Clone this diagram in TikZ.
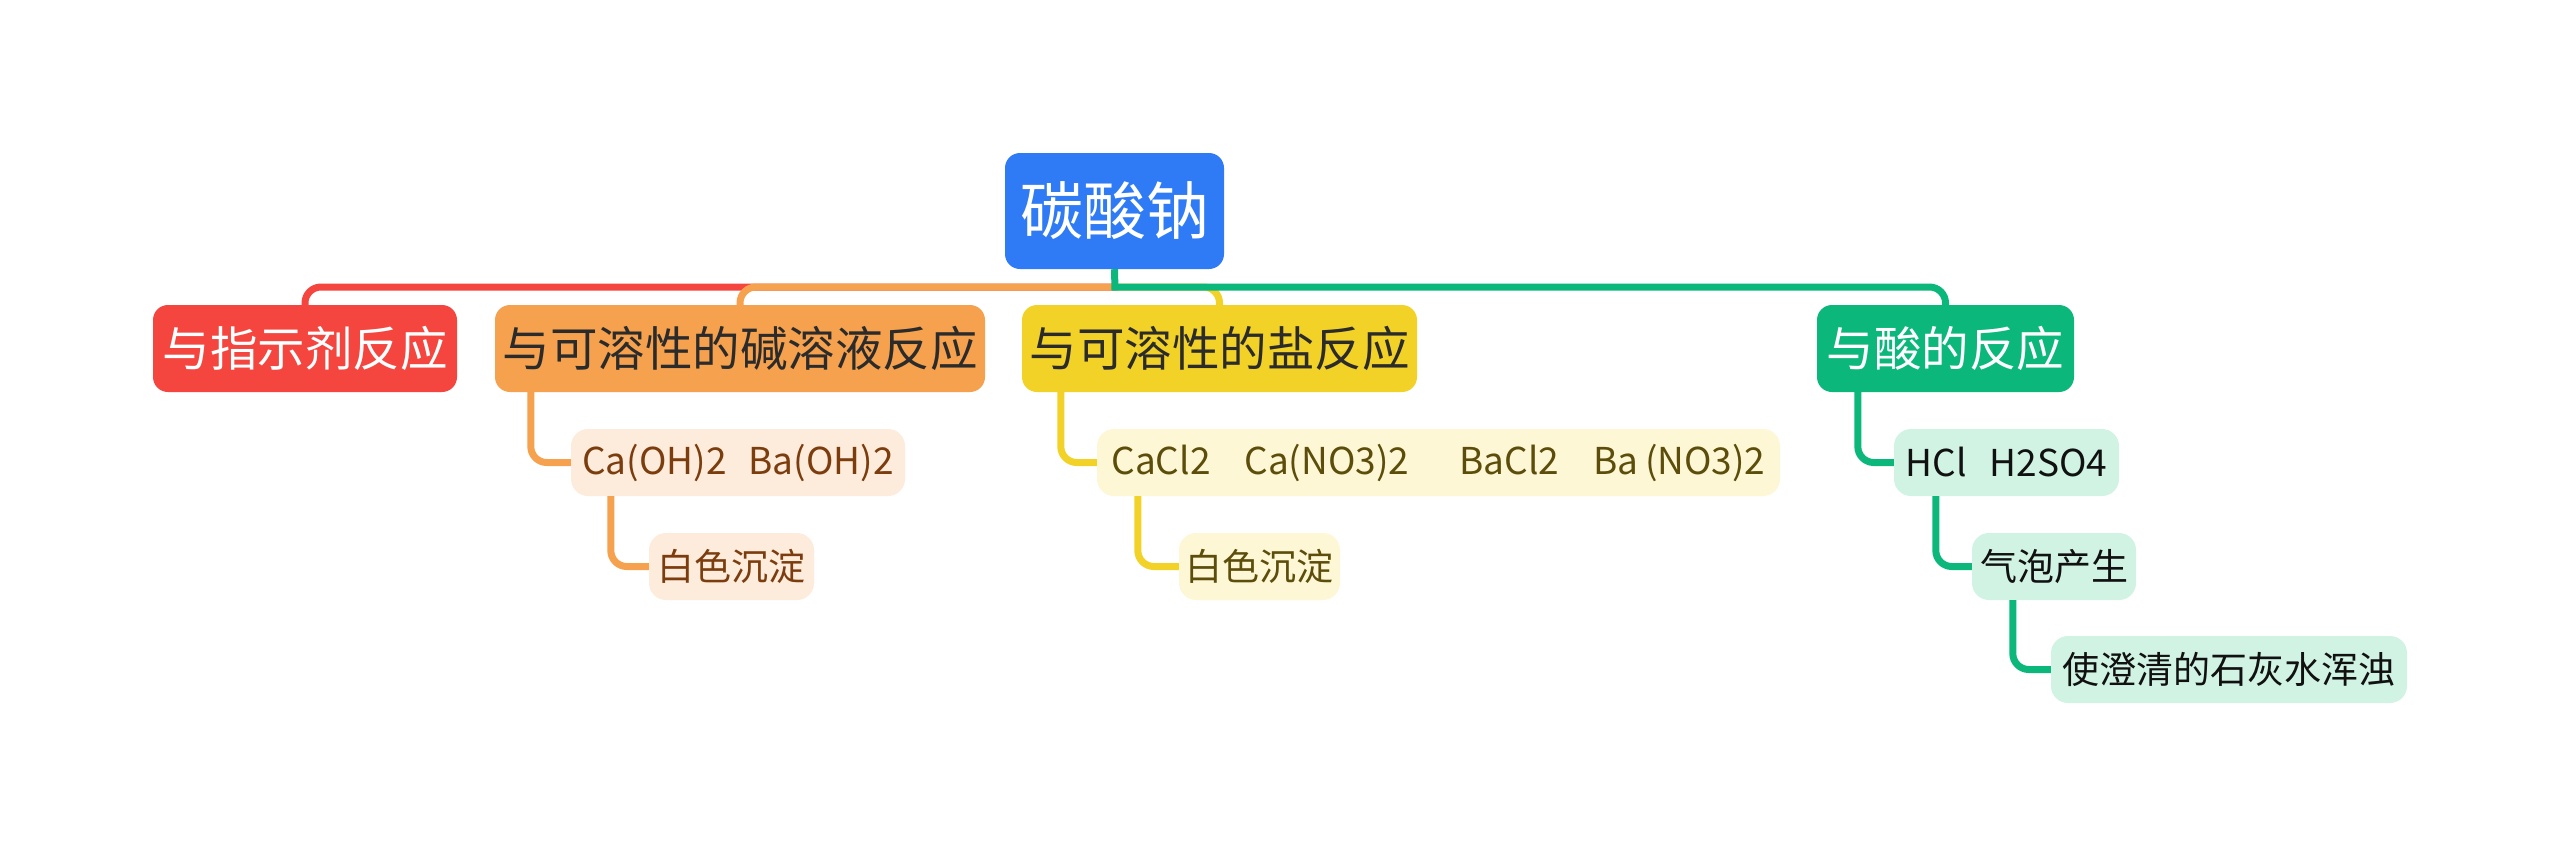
\documentclass[tikz,border=0pt]{standalone}
\usepackage{fontspec}
\setmainfont{Noto Sans CJK SC}
\definecolor{rootblue}{HTML}{2F7BF5}
\definecolor{redc}{HTML}{F4453F}
\definecolor{orangec}{HTML}{F5A14E}
\definecolor{yellowc}{HTML}{F2D227}
\definecolor{greenc}{HTML}{0BB77A}
\definecolor{osubfill}{HTML}{FDEBDC}
\definecolor{osubtext}{HTML}{7C3D0E}
\definecolor{ysubfill}{HTML}{FDF7D6}
\definecolor{ysubtext}{HTML}{5C4D0A}
\definecolor{gsubfill}{HTML}{D1F3E4}
\definecolor{gsubtext}{HTML}{111111}
\definecolor{darktext}{HTML}{2B2B2B}
\begin{document}
\begin{tikzpicture}[x=1pt,y=-1pt,
  box/.style={rounded corners=15pt, inner sep=0pt, align=center},
  rootbox/.style={box, fill=rootblue, text=white, minimum height=116pt, font=\fontsize{63}{70}\selectfont},
  mainbox/.style={box, minimum height=87pt, font=\fontsize{47.5}{54}\selectfont},
  subbox/.style={box, rounded corners=17pt, minimum height=67pt, font=\fontsize{37}{42}\selectfont},
  osub/.style={subbox, fill=osubfill, text=osubtext},
  ysub/.style={subbox, fill=ysubfill, text=ysubtext},
  gsub/.style={subbox, fill=gsubfill, text=gsubtext},
  conn/.style={line width=7pt, rounded corners=16pt},
  redline/.style={conn, draw=redc},
  orangeline/.style={conn, draw=orangec},
  yellowline/.style={conn, draw=yellowc},
  greenline/.style={conn, draw=greenc}]
\useasboundingbox[fill=white] (0,0) rectangle (2560,857);

\node[rootbox, minimum width=219pt] (root) at (1114.5,211) {碳酸钠};

\node[mainbox, fill=redc, text=white, minimum width=304pt] (red) at (305,348.5) {与指示剂反应};
\node[mainbox, fill=orangec, text=darktext, minimum width=490pt] (orange) at (740,348.5) {与可溶性的碱溶液反应};
\node[mainbox, fill=yellowc, text=darktext, minimum width=395pt] (yellow) at (1219.5,348.5) {与可溶性的盐反应};
\node[mainbox, fill=greenc, text=white, minimum width=257pt] (green) at (1945.5,348.5) {与酸的反应};

\node[osub, minimum width=334pt] (caoh) at (738,462.5) {Ca(OH)2\hspace{22pt}Ba(OH)2};
\node[osub, minimum width=165pt] (bai1) at (731.5,566.5) {白色沉淀};
\node[ysub, minimum width=683pt] (cacl) at (1438.5,462.5) {CaCl2\hspace{34pt}Ca(NO3)2\hspace{50pt}BaCl2\hspace{34pt}Ba\hspace{7pt}(NO3)2};
\node[ysub, minimum width=161pt] (bai2) at (1259.5,566.5) {白色沉淀};
\node[gsub, minimum width=225pt] (hcl) at (2006.5,462.5) {HCl\hspace{23pt}H2SO4};
\node[gsub, minimum width=164pt] (qipao) at (2054,566.5) {气泡产生};
\node[gsub, minimum width=356pt] (shi) at (2229,669.5) {使澄清的石灰水浑浊};

\coordinate (hub) at (1115,287);
\coordinate (stubend) at (1115,290.5);
\draw[redline] (hub) -| (red.north);
\draw[orangeline] (hub) -| (orange.north);
\draw[yellowline] (hub) -| (yellow.north);
\draw[greenline] (hub) -| (green.north);
\draw[greenline] (root.south) -- (stubend);

\draw[orangeline] ([xshift=36pt]orange.south west) |- (caoh.west);
\draw[orangeline] ([xshift=40pt]caoh.south west) |- (bai1.west);
\draw[yellowline] ([xshift=39pt]yellow.south west) |- (cacl.west);
\draw[yellowline] ([xshift=41pt]cacl.south west) |- (bai2.west);
\draw[greenline] ([xshift=41pt]green.south west) |- (hcl.west);
\draw[greenline] ([xshift=42pt]hcl.south west) |- (qipao.west);
\draw[greenline] ([xshift=41pt]qipao.south west) |- (shi.west);
\end{tikzpicture}
\end{document}
